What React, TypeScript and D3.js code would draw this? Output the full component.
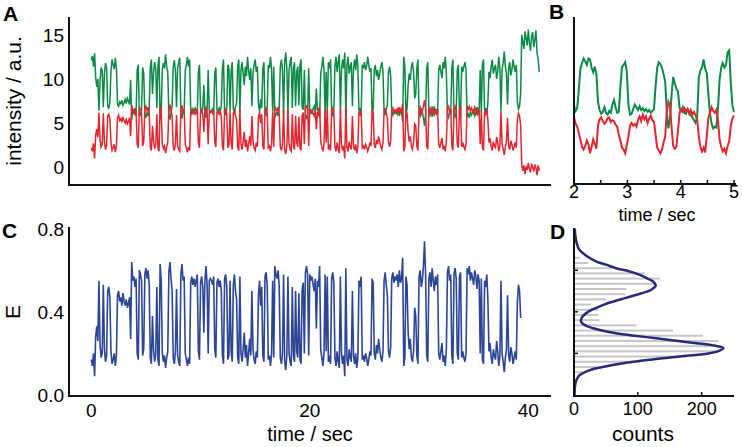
import React from "react";
import * as d3 from "d3";

// sampling interval of the long traces (s) and of the zoomed trace in B
const DT = 0.1;
const DT_ZOOM = 0.03;
const ZOOM_START = 2;

// panel A: donor (green) and acceptor (red) intensity, a.u., one row per second
const donorTrace = [
  12.1, 12.6, 11.4, 12.9, 10.2, 9.1, 10.0, 6.4, 9.8, 11.3,
  11.0, 6.8, 10.6, 11.8, 11.2, 7.0, 6.6, 7.3, 10.9, 12.2,
  11.6, 11.1, 12.4, 11.2, 7.1, 6.9, 7.4, 7.2, 7.6, 7.0,
  7.3, 7.7, 7.2, 7.8, 7.5, 7.1, 9.9, 5.4, 6.3, 6.1,
  6.7, 6.2, 11.0, 11.6, 5.7, 6.0, 6.4, 11.3, 10.6, 6.0,
  5.6, 6.2, 5.8, 6.6, 11.4, 12.2, 8.3, 10.7, 11.9, 11.0,
  6.7, 11.5, 12.5, 5.5, 6.3, 11.1, 11.8, 11.2, 12.8, 11.4,
  10.8, 5.9, 5.4, 6.2, 6.9, 11.4, 12.1, 10.9, 6.8, 11.2,
  11.9, 12.4, 6.0, 5.5, 6.4, 6.1, 11.0, 11.6, 12.5, 11.4,
  12.2, 6.5, 6.1, 6.6, 6.2, 6.7, 6.4, 6.0, 10.8, 11.6,
  6.5, 6.1, 6.7, 9.3, 6.3, 5.6, 6.6, 11.0, 6.4, 6.2,
  6.4, 6.6, 6.1, 10.6, 11.3, 6.5, 6.2, 6.7, 6.3, 6.9,
  11.2, 12.2, 6.2, 6.0, 6.7, 11.6, 11.2, 6.3, 10.8, 11.9,
  6.6, 6.0, 6.9, 7.3, 11.4, 12.2, 6.1, 11.0, 11.9, 10.6,
  9.3, 11.4, 10.3, 12.5, 11.0, 9.9, 11.2, 6.9, 10.6, 11.6,
  12.2, 10.8, 11.4, 7.1, 6.3, 7.7, 6.7, 11.2, 11.9, 6.1,
  5.9, 6.6, 11.6, 11.2, 12.5, 11.0, 6.3, 11.4, 5.6, 6.0,
  6.2, 5.8, 6.7, 11.4, 12.2, 11.0, 6.0, 11.9, 13.0, 11.2,
  6.1, 11.0, 11.9, 12.5, 6.7, 11.2, 11.9, 6.9, 10.8, 11.4,
  7.0, 11.6, 12.2, 6.8, 6.5, 11.0, 5.9, 5.6, 6.0, 11.2,
  6.0, 6.3, 6.1, 6.6, 6.9, 6.2, 8.9, 6.4, 6.7, 5.6,
  10.6, 11.4, 12.5, 11.0, 6.0, 10.8, 6.1, 11.9, 11.2, 12.2,
  6.2, 5.9, 6.5, 11.4, 12.5, 10.8, 11.9, 12.8, 6.1, 11.0,
  12.2, 11.2, 13.0, 5.6, 11.6, 12.5, 10.6, 11.4, 11.9, 6.9,
  11.2, 12.2, 11.0, 12.8, 11.4, 6.3, 6.7, 6.1, 11.6, 11.2,
  11.9, 11.0, 11.4, 12.5, 11.6, 10.8, 11.2, 6.2, 6.5, 11.0,
  11.6, 10.3, 11.0, 9.9, 10.6, 11.4, 11.9, 10.8, 6.3, 5.9,
  6.6, 7.1, 10.8, 11.4, 10.4, 6.2, 5.9, 6.5, 6.1, 6.3,
  6.0, 6.7, 5.8, 6.5, 6.2, 5.2, 12.5, 11.4, 6.1, 6.6,
  9.3, 10.6, 9.9, 11.4, 11.9, 10.8, 7.8, 8.3, 11.2, 12.2,
  6.1, 5.8, 6.7, 6.3, 5.6, 4.7, 6.0, 11.2, 11.9, 6.2,
  5.9, 6.7, 5.7, 6.3, 6.9, 6.1, 6.6, 6.0, 11.0, 11.6,
  10.8, 10.1, 11.9, 11.2, 12.5, 10.6, 5.9, 5.6, 6.3, 6.0,
  11.2, 12.2, 6.0, 5.7, 6.2, 11.0, 11.6, 6.1, 5.9, 11.4,
  10.8, 11.4, 11.9, 11.0, 5.7, 6.0, 5.6, 6.3, 5.9, 6.2,
  6.6, 5.8, 6.1, 6.8, 6.0, 6.3, 11.0, 6.2, 11.6, 12.2,
  6.3, 6.7, 6.0, 7.3, 10.8, 10.1, 11.4, 12.2, 10.6, 11.2,
  11.6, 10.0, 10.8, 12.5, 11.2, 6.3, 11.0, 11.9, 13.1, 11.4,
  10.6, 7.1, 11.2, 11.9, 10.4, 11.0, 12.2, 11.4, 10.8, 11.6,
  7.4, 6.6, 6.9, 8.4, 15.0, 14.2, 13.4, 15.4, 14.6, 13.8,
  15.6, 14.1, 13.2, 14.8, 15.3, 13.6, 14.4, 15.5, 13.0, 12.2, 10.8,
];

const acceptorTrace = [
  2.2, 1.8, 2.7, 1.0, 3.6, 4.3, 3.4, 6.2, 3.1, 2.3,
  2.6, 6.1, 2.9, 2.0, 2.5, 5.8, 6.0, 5.5, 2.8, 1.9,
  2.2, 2.6, 1.7, 2.4, 5.6, 5.9, 5.3, 5.5, 5.1, 5.7,
  5.3, 5.0, 5.4, 4.9, 5.2, 5.6, 3.5, 7.0, 6.3, 6.5,
  6.0, 6.4, 2.6, 2.2, 6.8, 6.6, 6.2, 2.4, 2.9, 6.6,
  6.9, 6.4, 6.8, 6.1, 2.3, 1.9, 4.7, 2.9, 2.1, 2.6,
  6.0, 2.2, 1.8, 7.0, 6.3, 2.6, 2.1, 2.4, 1.6, 2.3,
  2.8, 6.7, 7.1, 6.4, 5.8, 2.3, 1.9, 2.7, 5.9, 2.4,
  2.0, 1.8, 6.6, 7.0, 6.3, 6.5, 2.6, 2.2, 1.7, 2.3,
  1.9, 6.2, 6.5, 6.1, 6.4, 6.0, 6.3, 6.6, 2.8, 2.2,
  6.2, 6.5, 6.0, 4.0, 6.3, 6.9, 6.1, 2.6, 6.3, 6.4,
  6.3, 6.1, 6.5, 2.9, 2.3, 6.2, 6.4, 6.0, 6.3, 5.8,
  2.4, 1.9, 6.4, 6.6, 6.0, 2.2, 2.5, 6.3, 2.7, 2.0,
  6.1, 6.6, 5.8, 5.4, 2.3, 1.9, 6.5, 2.6, 2.0, 2.9,
  4.0, 2.3, 3.1, 1.8, 2.6, 3.5, 2.4, 5.8, 2.9, 2.2,
  1.9, 2.8, 2.3, 5.6, 6.3, 5.0, 6.0, 2.4, 2.0, 6.5,
  6.7, 6.1, 2.2, 2.4, 1.8, 2.6, 6.3, 2.3, 6.9, 6.6,
  6.4, 6.8, 6.0, 2.3, 1.9, 2.6, 6.6, 2.0, 1.5, 2.4,
  6.5, 2.6, 2.0, 1.8, 6.0, 2.4, 2.0, 5.8, 2.8, 2.3,
  5.7, 2.2, 1.9, 5.9, 6.2, 2.6, 6.7, 6.9, 6.6, 2.4,
  6.6, 6.3, 6.5, 6.1, 5.8, 6.4, 4.3, 6.3, 6.0, 6.9,
  2.9, 2.3, 1.8, 2.6, 6.6, 2.8, 6.5, 2.0, 2.4, 1.9,
  6.4, 6.7, 6.2, 2.3, 1.8, 2.8, 2.0, 1.6, 6.5, 2.6,
  1.9, 2.4, 1.0, 6.9, 2.2, 1.8, 2.9, 2.3, 2.0, 5.8,
  2.4, 1.9, 2.6, 1.6, 2.3, 6.3, 6.0, 6.5, 2.2, 2.4,
  2.0, 2.6, 2.3, 1.8, 2.2, 2.8, 2.4, 6.4, 6.2, 2.6,
  2.2, 3.1, 2.6, 3.5, 2.9, 2.3, 2.0, 2.8, 6.3, 6.7,
  6.1, 5.6, 2.8, 2.3, 3.0, 6.4, 6.7, 6.2, 6.5, 6.3,
  6.6, 6.0, 6.8, 6.2, 6.4, 7.2, 1.8, 2.3, 6.5, 6.1,
  4.0, 2.9, 3.5, 2.3, 2.0, 2.8, 4.9, 4.7, 2.4, 1.9,
  6.5, 6.8, 6.0, 6.3, 6.9, 7.6, 6.6, 2.4, 2.0, 6.4,
  6.7, 6.0, 6.9, 6.3, 5.8, 6.5, 6.1, 6.6, 2.6, 2.2,
  2.8, 3.3, 2.0, 2.4, 1.8, 2.9, 6.7, 6.9, 6.3, 6.6,
  2.4, 1.9, 6.6, 6.9, 6.4, 2.6, 2.2, 6.5, 6.7, 2.3,
  2.8, 2.3, 2.0, 2.6, 6.9, 6.6, 6.9, 6.3, 6.7, 6.4,
  6.1, 6.8, 6.5, 5.9, 6.6, 6.3, 2.6, 6.4, 2.2, 1.9,
  6.3, 6.0, 6.6, 5.4, 2.8, 3.3, 2.3, 1.9, 2.9, 2.4,
  2.2, 3.4, 2.8, 1.8, 2.4, 6.3, 2.6, 2.0, 1.4, 2.3,
  2.9, 5.6, 2.4, 2.0, 3.0, 2.6, 1.9, 2.3, 2.8, 2.2,
  5.3, 6.1, 5.8, 4.7, 0.3, -0.4, 0.2, -0.8, 0.1, -0.3,
  0.5, -0.2, -0.6, 0.4, 0.0, -0.5, 0.3, -0.1, -0.9, 0.2, -0.4,
];

// panel C: FRET efficiency until photobleaching
const fretTrace = [
  0.17, 0.14, 0.20, 0.09, 0.28, 0.33, 0.26, 0.55, 0.24, 0.18,
  0.20, 0.53, 0.22, 0.16, 0.19, 0.50, 0.52, 0.47, 0.21, 0.15,
  0.17, 0.20, 0.14, 0.19, 0.48, 0.50, 0.45, 0.47, 0.43, 0.49,
  0.45, 0.43, 0.46, 0.42, 0.44, 0.47, 0.27, 0.64, 0.55, 0.57,
  0.52, 0.56, 0.20, 0.17, 0.60, 0.58, 0.55, 0.19, 0.22, 0.58,
  0.61, 0.56, 0.60, 0.53, 0.18, 0.15, 0.38, 0.22, 0.16, 0.20,
  0.52, 0.17, 0.14, 0.63, 0.55, 0.20, 0.16, 0.19, 0.13, 0.18,
  0.21, 0.59, 0.64, 0.56, 0.50, 0.18, 0.15, 0.21, 0.51, 0.19,
  0.16, 0.14, 0.58, 0.63, 0.55, 0.57, 0.20, 0.17, 0.14, 0.18,
  0.15, 0.54, 0.57, 0.53, 0.56, 0.52, 0.55, 0.58, 0.21, 0.17,
  0.54, 0.57, 0.52, 0.30, 0.55, 0.62, 0.53, 0.20, 0.55, 0.56,
  0.55, 0.53, 0.57, 0.22, 0.18, 0.54, 0.56, 0.52, 0.55, 0.50,
  0.19, 0.15, 0.56, 0.58, 0.52, 0.17, 0.19, 0.55, 0.21, 0.16,
  0.53, 0.58, 0.50, 0.46, 0.18, 0.15, 0.57, 0.20, 0.16, 0.22,
  0.30, 0.18, 0.24, 0.14, 0.20, 0.27, 0.19, 0.50, 0.22, 0.17,
  0.15, 0.21, 0.18, 0.48, 0.55, 0.43, 0.52, 0.19, 0.16, 0.57,
  0.59, 0.53, 0.17, 0.19, 0.14, 0.20, 0.55, 0.18, 0.62, 0.58,
  0.56, 0.60, 0.52, 0.18, 0.15, 0.20, 0.58, 0.16, 0.12, 0.19,
  0.57, 0.20, 0.16, 0.14, 0.52, 0.19, 0.16, 0.50, 0.21, 0.18,
  0.49, 0.17, 0.15, 0.51, 0.54, 0.20, 0.59, 0.62, 0.58, 0.19,
  0.58, 0.55, 0.57, 0.53, 0.50, 0.56, 0.32, 0.55, 0.52, 0.62,
  0.22, 0.18, 0.14, 0.20, 0.58, 0.21, 0.57, 0.16, 0.19, 0.15,
  0.56, 0.59, 0.54, 0.18, 0.14, 0.21, 0.16, 0.13, 0.57, 0.20,
  0.15, 0.19, 0.09, 0.61, 0.17, 0.14, 0.22, 0.18, 0.16, 0.50,
  0.19, 0.15, 0.20, 0.13, 0.18, 0.55, 0.52, 0.57, 0.17, 0.19,
  0.16, 0.20, 0.18, 0.14, 0.17, 0.21, 0.19, 0.56, 0.54, 0.20,
  0.17, 0.24, 0.20, 0.27, 0.22, 0.18, 0.16, 0.21, 0.55, 0.59,
  0.53, 0.48, 0.21, 0.18, 0.23, 0.56, 0.59, 0.54, 0.57, 0.55,
  0.58, 0.52, 0.60, 0.54, 0.56, 0.66, 0.14, 0.18, 0.57, 0.53,
  0.30, 0.22, 0.27, 0.18, 0.16, 0.21, 0.42, 0.38, 0.19, 0.15,
  0.57, 0.60, 0.52, 0.55, 0.62, 0.74, 0.58, 0.19, 0.16, 0.56,
  0.59, 0.52, 0.61, 0.55, 0.50, 0.57, 0.53, 0.58, 0.20, 0.17,
  0.21, 0.25, 0.16, 0.19, 0.14, 0.22, 0.59, 0.62, 0.55, 0.58,
  0.19, 0.15, 0.58, 0.61, 0.56, 0.20, 0.17, 0.57, 0.59, 0.18,
  0.21, 0.18, 0.16, 0.20, 0.61, 0.58, 0.62, 0.55, 0.59, 0.56,
  0.53, 0.60, 0.57, 0.51, 0.58, 0.55, 0.20, 0.56, 0.17, 0.15,
  0.55, 0.52, 0.58, 0.46, 0.21, 0.25, 0.18, 0.15, 0.22, 0.19,
  0.17, 0.26, 0.21, 0.14, 0.19, 0.55, 0.20, 0.16, 0.11, 0.18,
  0.22, 0.48, 0.19, 0.16, 0.23, 0.20, 0.15, 0.18, 0.21, 0.17,
  0.45, 0.53, 0.50, 0.37,
];

// panel B: 2-5 s close-up
const donorZoom = [
  6.8, 6.2, 6.5, 8.5, 10.8, 11.4, 11.9, 11.6, 11.2, 11.9,
  11.8, 10.9, 10.4, 11.0, 10.2, 7.2, 6.3, 5.9, 6.1, 6.6,
  6.0, 5.8, 6.2, 6.0, 6.9, 7.4, 6.6, 6.0, 6.1, 8.8,
  11.0, 11.2, 11.5, 10.5, 6.9, 5.8, 5.9, 6.4, 6.9, 6.6,
  6.3, 6.7, 6.3, 6.5, 6.2, 6.4, 6.1, 6.3, 6.0, 6.2,
  6.4, 8.9, 10.9, 11.5, 11.3, 10.9, 10.2, 9.4, 6.0, 4.3,
  5.4, 8.0, 9.9, 9.2, 8.6, 8.3, 6.5, 6.2, 6.6, 6.0,
  5.9, 6.4, 6.1, 5.7, 5.5, 5.2, 4.9, 5.6, 9.8, 10.6,
  10.9, 11.8, 10.8, 10.3, 8.0, 5.9, 4.8, 4.3, 4.5, 4.4,
  6.5, 9.6, 10.9, 11.4, 10.9, 11.2, 12.6, 12.8, 9.3, 6.8,
  6.1,
];

const acceptorZoom = [
  5.5, 4.8, 4.5, 3.8, 3.1, 2.3, 2.0, 2.4, 3.0, 2.6,
  1.6, 2.3, 3.1, 2.6, 2.1, 4.6, 5.3, 5.5, 5.1, 4.8,
  5.0, 5.4, 5.5, 5.0, 5.2, 5.1, 4.7, 4.5, 3.6, 3.0,
  2.2, 2.0, 1.6, 2.5, 3.4, 4.6, 4.9, 4.6, 4.8, 4.5,
  5.2, 5.6, 5.1, 5.8, 5.3, 5.6, 4.9, 5.4, 5.7, 5.2,
  5.0, 3.6, 2.2, 1.9, 1.6, 2.0, 2.8, 3.4, 6.2, 7.2,
  6.8, 4.4, 2.4, 2.1, 2.3, 4.1, 6.0, 6.4, 6.1, 6.5,
  6.2, 6.4, 5.9, 6.3, 5.8, 6.1, 5.7, 5.3, 3.4, 2.3,
  1.8, 2.2, 1.7, 3.5, 5.5, 6.0, 6.6, 6.2, 6.0, 6.3,
  5.2, 3.1, 2.3, 1.8, 2.1, 1.6, 2.4, 2.9, 4.6, 5.4,
  5.7,
];

// panel D: histogram of E and its two-Gaussian fit
const histBins = [
  0.11, 0.135, 0.16, 0.185, 0.21, 0.235, 0.26, 0.285, 0.31, 0.335, 0.36, 0.385,
  0.41, 0.435, 0.46, 0.485, 0.51, 0.535, 0.56, 0.585, 0.61, 0.635, 0.66,
];
const histCounts = [
  14, 35, 103, 176, 228, 231, 226, 202, 155, 98, 40, 38,
  38, 27, 51, 80, 82, 127, 135, 111, 60, 22, 9,
];
const fitE = [
  0.0, 0.016, 0.04, 0.064, 0.08, 0.096, 0.12, 0.135, 0.153, 0.17, 0.185, 0.2,
  0.209, 0.225, 0.24, 0.249, 0.261, 0.273, 0.285, 0.297, 0.31, 0.321, 0.336, 0.353,
  0.37, 0.386, 0.4, 0.418, 0.435, 0.45, 0.466, 0.482, 0.495, 0.506, 0.527, 0.546,
  0.562, 0.578, 0.595, 0.61, 0.627, 0.642, 0.66, 0.675, 0.69, 0.705, 0.723, 0.74,
  0.77, 0.8,
];
const fitCounts = [
  0.8, 1, 1.5, 3, 5, 9, 25, 45, 77, 120, 166, 210,
  224, 234, 216, 192, 160, 129, 95, 66, 44, 30, 17, 11,
  12, 16, 22, 34, 47, 62, 80, 98, 112, 121, 128, 124,
  114, 103, 86, 66, 50, 35, 24, 17, 11, 7, 5, 3.5,
  2, 1.2,
];

const intensityTicks = [0, 5, 10, 15];
const timeTicks = [0, 20, 40];
const fretTicks = [0.0, 0.4, 0.8];
const zoomTimeTicks = [2, 3, 4, 5];
const zoomMinorTicks = [2, 2.5, 3, 3.5, 4, 4.5, 5];
const countTicks = [0, 100, 200];
const fretMinorTicks = [0.2, 0.4, 0.6];

const GREEN = "#0b8a46";
const RED = "#e2262f";
const BLUE = "#2c4597";
const NAVY = "#262a78";
const FONT = "'Liberation Sans', Arial, Helvetica, sans-serif";

export default function App() {
  const x = d3.scaleLinear().domain([0, 40]).range([91.3, 528.3]);
  const yA = d3.scaleLinear().domain([0, 15]).range([167.2, 34.8]);
  const yC = d3.scaleLinear().domain([0, 0.8]).range([395, 228.7]);
  const xB = d3.scaleLinear().domain([2, 5]).range([574, 734]);
  const yB = d3.scaleLinear().domain([0, 10]).range([168, 76]);
  const xD = d3.scaleLinear().domain([0, 200]).range([574, 701.7]);

  const lineA = d3.line<number>().x((_, i) => x(i * DT)).y((d) => yA(d));
  const lineC = d3.line<number>().x((_, i) => x(i * DT)).y((d) => yC(d));
  const lineB = d3
    .line<number>()
    .x((_, i) => xB(ZOOM_START + i * DT_ZOOM))
    .y((d) => yB(d));
  const fitLine = d3
    .line<number>()
    .x((d) => xD(d))
    .y((_, i) => yC(fitE[i]))
    .curve(d3.curveCatmullRom);

  const fmt1 = d3.format(".1f");

  return (
    <svg
      width={742}
      height={447}
      style={{ position: "absolute", left: 0, top: 0, background: "#fff" }}
      fontFamily={FONT}
    >
      {/* panel letters */}
      <g fontWeight="bold" fontSize={21}>
        <text x={3} y={21}>A</text>
        <text x={549} y={19}>B</text>
        <text x={2} y={238}>C</text>
        <text x={550} y={239}>D</text>
      </g>

      {/* ---- A ---- */}
      <path d={lineA(donorTrace) ?? ""} fill="none" stroke={GREEN} strokeWidth={1.5} />
      <path d={lineA(acceptorTrace) ?? ""} fill="none" stroke={RED} strokeWidth={1.5} />
      <path d="M69,17V185H551" fill="none" stroke="#111" strokeWidth={2} />
      <g fontSize={19} textAnchor="end">
        {intensityTicks.map((t) => (
          <text key={t} x={64} y={yA(t)} dy="0.36em">{t}</text>
        ))}
      </g>
      <text transform="translate(21,101) rotate(-90)" textAnchor="middle" fontSize={21}>
        intensity / a.u.
      </text>

      {/* ---- B ---- */}
      <path d={lineB(donorZoom) ?? ""} fill="none" stroke={GREEN} strokeWidth={2} />
      <path d={lineB(acceptorZoom) ?? ""} fill="none" stroke={RED} strokeWidth={2} />
      <path d="M574,17V184H736" fill="none" stroke="#111" strokeWidth={2} />
      {zoomMinorTicks.map((t) => (
        <line key={t} x1={xB(t)} x2={xB(t)} y1={184} y2={180} stroke="#111" strokeWidth={1.5} />
      ))}
      <g fontSize={18} textAnchor="middle">
        {zoomTimeTicks.map((t) => (
          <text key={t} x={xB(t)} y={198}>{t}</text>
        ))}
        <text x={657} y={221}>time / sec</text>
      </g>

      {/* ---- C ---- */}
      <path d={lineC(fretTrace) ?? ""} fill="none" stroke={BLUE} strokeWidth={1.6} />
      <path d="M69,227V396H551" fill="none" stroke="#111" strokeWidth={2} />
      <g fontSize={19} textAnchor="end">
        {fretTicks.map((t) => (
          <text key={t} x={64} y={yC(t)} dy="0.36em">{fmt1(t)}</text>
        ))}
      </g>
      <g fontSize={19} textAnchor="middle">
        {timeTicks.map((t) => (
          <text key={t} x={x(t)} y={417}>{t}</text>
        ))}
      </g>
      <text x={310} y={441} textAnchor="middle" fontSize={20}>time / sec</text>
      <text transform="translate(20,312) rotate(-90)" textAnchor="middle" fontSize={21}>E</text>

      {/* ---- D ---- */}
      {histBins.map((e, i) => (
        <rect
          key={e}
          x={xD(0)}
          y={yC(e) - 1}
          width={xD(histCounts[i]) - xD(0)}
          height={2}
          fill="#c6c6c6"
        />
      ))}
      <path d={fitLine(fitCounts) ?? ""} fill="none" stroke={NAVY} strokeWidth={2.5} />
      <path d="M574,228V396H734" fill="none" stroke="#111" strokeWidth={2} />
      {fretMinorTicks.map((t) => (
        <line key={t} x1={574} x2={578} y1={yC(t)} y2={yC(t)} stroke="#111" strokeWidth={1.5} />
      ))}
      {countTicks.map((c) => (
        <line key={c} x1={xD(c)} x2={xD(c)} y1={396} y2={392} stroke="#111" strokeWidth={1.5} />
      ))}
      <g fontSize={18} textAnchor="middle">
        {countTicks.map((c) => (
          <text key={c} x={xD(c)} y={415}>{c}</text>
        ))}
      </g>
      <text x={643} y={441} textAnchor="middle" fontSize={21}>counts</text>
    </svg>
  );
}
